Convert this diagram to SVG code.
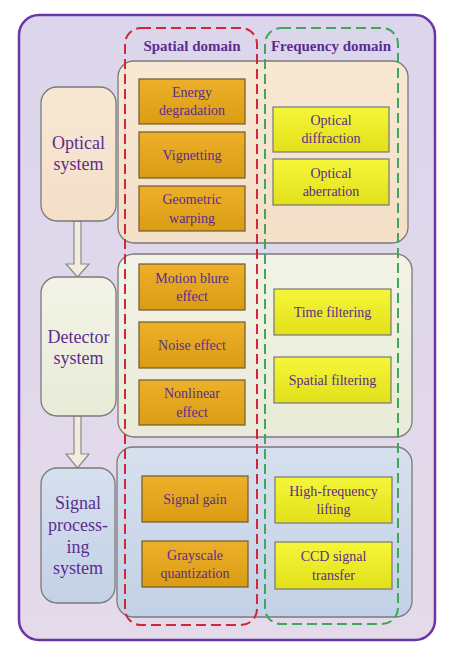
<svg xmlns="http://www.w3.org/2000/svg" width="468" height="653" viewBox="0 0 468 653">
<defs>
<linearGradient id="gBg" x1="0" y1="0" x2="0" y2="1"><stop offset="0" stop-color="#dcd6ec"/><stop offset="1" stop-color="#e4dae9"/></linearGradient>
<linearGradient id="gOr" x1="0" y1="0" x2="0" y2="1"><stop offset="0" stop-color="#eeb02a"/><stop offset="1" stop-color="#d99c12"/></linearGradient>
<linearGradient id="gYe" x1="0" y1="0" x2="0" y2="1"><stop offset="0" stop-color="#f6f63a"/><stop offset="1" stop-color="#e2e01a"/></linearGradient>
<linearGradient id="gP1" x1="0" y1="0" x2="0" y2="1"><stop offset="0" stop-color="#f7e8d4"/><stop offset="1" stop-color="#f4dfc8"/></linearGradient>
<linearGradient id="gP2" x1="0" y1="0" x2="0" y2="1"><stop offset="0" stop-color="#f2f3e6"/><stop offset="1" stop-color="#e9ebd8"/></linearGradient>
<linearGradient id="gP3" x1="0" y1="0" x2="0" y2="1"><stop offset="0" stop-color="#d6e0ee"/><stop offset="1" stop-color="#c3d1e6"/></linearGradient>
</defs>
<style>
.frame{fill:url(#gBg);stroke:#6b35a8;stroke-width:2.5}
.panel{stroke:#7a7a7a;stroke-width:1.3}
.sys{stroke:#7a7a7a;stroke-width:1.3}
.or{fill:url(#gOr);stroke:#6e5a30;stroke-width:1.2}
.ye{fill:url(#gYe);stroke:#777;stroke-width:1.2}
.red{fill:none;stroke:#d2263a;stroke-width:2;stroke-dasharray:10 5}
.grn{fill:none;stroke:#3fa65a;stroke-width:2;stroke-dasharray:10 5}
.arr{fill:#f3ebde;stroke:#8a8a8a;stroke-width:1.2}
text{font-family:"Liberation Serif","Times New Roman",serif;fill:#5b2d8e;text-anchor:middle}
.t{font-size:14px}
.s{font-size:18px}
.h{font-size:15px;font-weight:bold}
</style>
<rect class="frame" x="19" y="15" width="416" height="625" rx="20"/>
<g id="panels">
<rect id="panel-optical" class="panel" fill="url(#gP1)" x="118" y="61" width="290" height="182" rx="16"/>
<rect id="panel-detector" class="panel" fill="url(#gP2)" x="118" y="254" width="294" height="183" rx="16"/>
<rect id="panel-signal" class="panel" fill="url(#gP3)" x="117" y="447" width="295" height="170" rx="16"/>
</g>
<g id="connectors">
<path class="arr" d="M74,221 L81,221 L81,264 L89,264 L77.5,277 L66,264 L74,264 Z"/>
<path class="arr" d="M74,416 L81,416 L81,454 L89,454 L77.5,468 L66,454 L74,454 Z"/>
</g>
<g id="optical-system"><rect class="sys" fill="url(#gP1)" x="41" y="87" width="75" height="134" rx="16"/><text class="s" x="78.5" y="149">Optical</text><text class="s" x="78.5" y="170">system</text></g>
<g id="detector-system"><rect class="sys" fill="url(#gP2)" x="41" y="277" width="75" height="139" rx="16"/><text class="s" x="78.5" y="343">Detector</text><text class="s" x="78.5" y="364">system</text></g>
<g id="signal-system"><rect class="sys" fill="url(#gP3)" x="41" y="468" width="74" height="135" rx="16"/><text class="s" x="78" y="509">Signal</text><text class="s" x="78" y="531">process-</text><text class="s" x="78" y="553">ing</text><text class="s" x="78" y="574">system</text></g>
<g id="energy"><rect class="or" x="139" y="79" width="106" height="45"/><text class="t" x="192" y="97">Energy</text><text class="t" x="192" y="115">degradation</text></g>
<g id="vignetting"><rect class="or" x="139" y="132" width="106" height="46"/><text class="t" x="192" y="160">Vignetting</text></g>
<g id="geometric"><rect class="or" x="139" y="186" width="106" height="45"/><text class="t" x="192" y="204">Geometric</text><text class="t" x="192" y="223">warping</text></g>
<g id="motion"><rect class="or" x="139" y="264" width="106" height="46"/><text class="t" x="192" y="283">Motion blure</text><text class="t" x="192" y="301">effect</text></g>
<g id="noise"><rect class="or" x="139" y="322" width="106" height="46"/><text class="t" x="192" y="350">Noise effect</text></g>
<g id="nonlinear"><rect class="or" x="139" y="380" width="106" height="45"/><text class="t" x="192" y="398">Nonlinear</text><text class="t" x="192" y="417">effect</text></g>
<g id="signal-gain"><rect class="or" x="142" y="476" width="106" height="46"/><text class="t" x="195" y="504">Signal gain</text></g>
<g id="grayscale"><rect class="or" x="142" y="541" width="106" height="46"/><text class="t" x="195" y="560">Grayscale</text><text class="t" x="195" y="578">quantization</text></g>
<g id="diffraction"><rect class="ye" x="273" y="107" width="116" height="45"/><text class="t" x="331" y="125">Optical</text><text class="t" x="331" y="143">diffraction</text></g>
<g id="aberration"><rect class="ye" x="273" y="159" width="116" height="46"/><text class="t" x="331" y="178">Optical</text><text class="t" x="331" y="196">aberration</text></g>
<g id="time-filtering"><rect class="ye" x="274" y="289" width="117" height="46"/><text class="t" x="332.5" y="317">Time filtering</text></g>
<g id="spatial-filtering"><rect class="ye" x="274" y="357" width="117" height="46"/><text class="t" x="332.5" y="385">Spatial filtering</text></g>
<g id="high-frequency"><rect class="ye" x="275" y="477" width="117" height="46"/><text class="t" x="333.5" y="496">High-frequency</text><text class="t" x="333.5" y="514">lifting</text></g>
<g id="ccd"><rect class="ye" x="275" y="542" width="117" height="47"/><text class="t" x="333.5" y="561">CCD signal</text><text class="t" x="333.5" y="580">transfer</text></g>
<g id="spatial-domain"><rect class="red" x="125" y="28" width="132" height="597" rx="16"/><text class="h" x="192" y="51">Spatial domain</text></g>
<g id="frequency-domain"><rect class="grn" x="265" y="28" width="133" height="596" rx="16"/><text class="h" x="331" y="51">Frequency domain</text></g>
</svg>
